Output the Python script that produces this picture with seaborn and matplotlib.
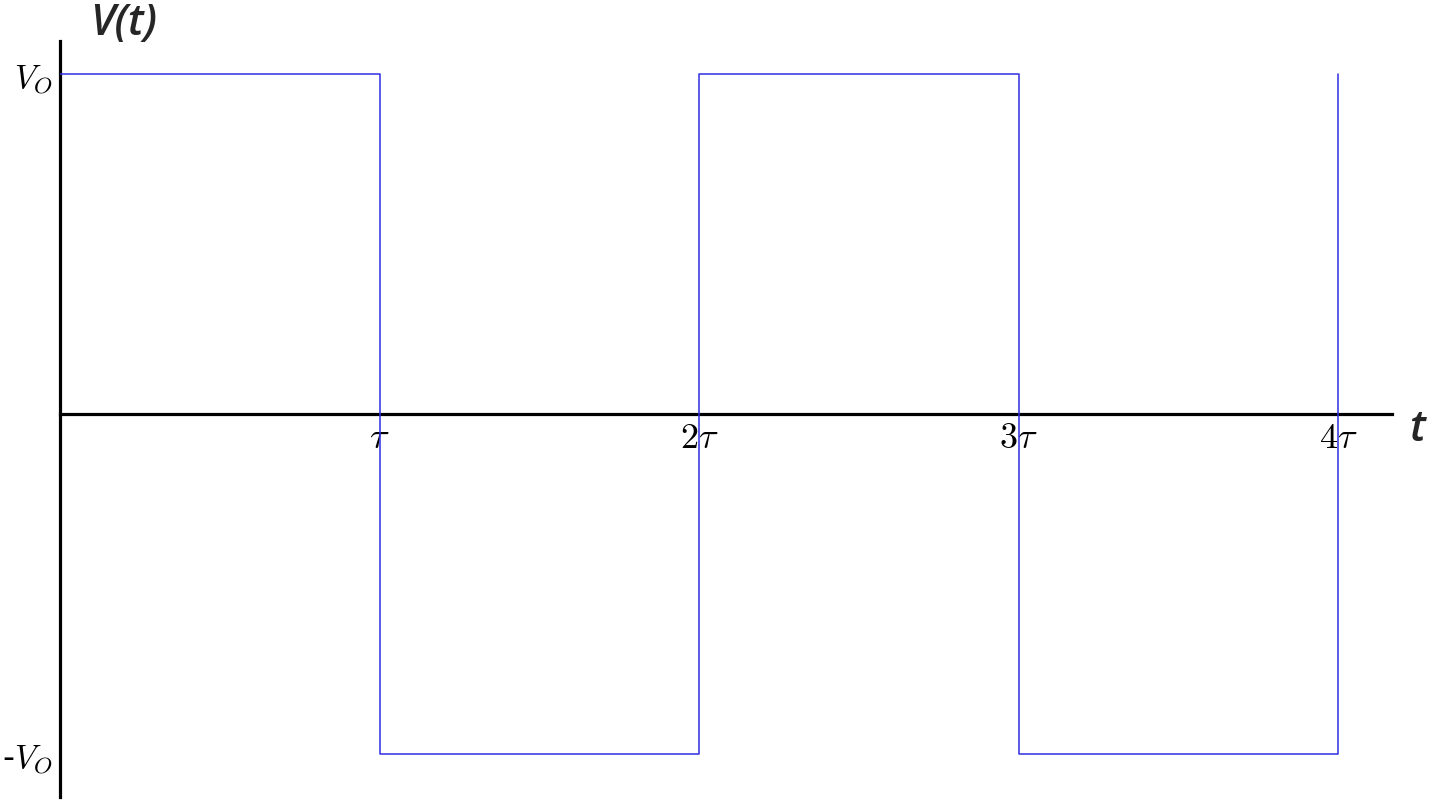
import matplotlib
matplotlib.use("Agg")
import matplotlib.pyplot as plt
import seaborn as sns
import pandas as pd

# data
t_vals = [0, 1, 2, 3, 4]          # in units of tau
v_vals = [1, -1, 1, -1, 1]        # in units of V_o
x_tick_pos = [1, 2, 3, 4]
x_tick_labels = [r'$\tau$', r'$2\tau$', r'$3\tau$', r'$4\tau$']
y_tick_pos = [1, -1]
y_tick_labels = [r'$V_O$', r'-$V_O$']

sns.set_style("white")
plt.rcParams['mathtext.fontset'] = 'cm'
plt.rcParams['font.family'] = ['DejaVu Sans']

df = pd.DataFrame({'t': t_vals, 'V': v_vals})

W, H = 1432, 803
fig = plt.figure(figsize=(W / 100, H / 100), dpi=100)
ax = fig.add_axes([60 / W, 5 / H, (1392 - 60) / W, (798 - 42) / H])

sns.lineplot(data=df, x='t', y='V', ax=ax, drawstyle='steps-post',
             color='#2e2ee0', linewidth=1.1, estimator=None, sort=False)

ax.set_xlim(0, (1392 - 60) / 319.5)
ax.set_ylim(-(798 - 415) / 340, (415 - 42) / 340)

for s in ['top', 'right']:
    ax.spines[s].set_visible(False)
ax.spines['bottom'].set_position(('data', 0))
ax.spines['left'].set_position(('data', 0))
for s in ['left', 'bottom']:
    ax.spines[s].set_linewidth(2.3)
    ax.spines[s].set_color('black')
    ax.spines[s].set_zorder(1)

ax.set_xticks(x_tick_pos)
ax.set_xticklabels(x_tick_labels, fontsize=26)
ax.set_yticks(y_tick_pos)
ax.set_yticklabels(y_tick_labels, fontsize=24)
ax.tick_params(axis='x', direction='out', length=3, width=2, pad=1, colors='black')
ax.tick_params(axis='y', direction='out', length=5, width=2, pad=0.5, colors='black')
ax.set_xlabel('')
ax.set_ylabel('')

fig.text(90 / W, 1 - 24 / H, 'V(t)', fontsize=31, style='italic', weight='semibold',
         ha='left', va='center', family=['Open Sans', 'DejaVu Sans'])
fig.text(1409 / W, 1 - 430 / H, 't', fontsize=31, style='italic', weight='semibold',
         ha='left', va='center', family=['Open Sans', 'DejaVu Sans'])

fig.savefig('out.png', dpi=100)
